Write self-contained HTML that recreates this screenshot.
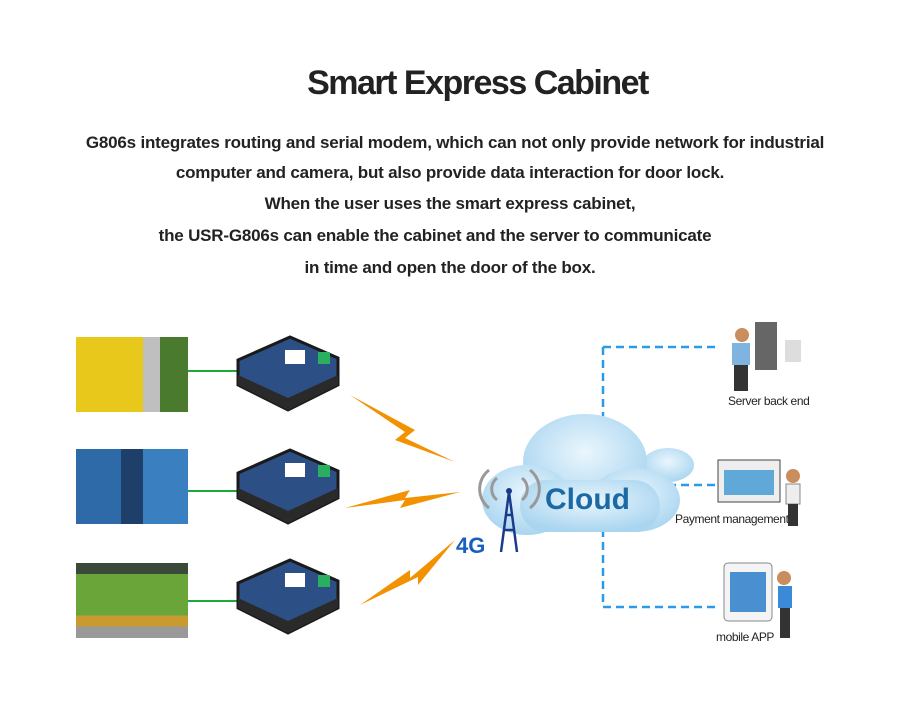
<!DOCTYPE html>
<html><head><style>
body{margin:0;width:900px;height:709px;background:#fff;position:relative;overflow:hidden;font-family:"Liberation Sans",sans-serif}
.t{position:absolute;left:0;width:900px;text-align:center;color:#222}
h1{position:absolute;top:64px;left:0;width:955px;text-align:center;margin:0;font-size:34px;font-weight:bold;color:#222;letter-spacing:-1.5px}
.p{font-size:17px;font-weight:bold;letter-spacing:-0.2px}
.ph{position:absolute;left:76px;width:112px;height:75px}
.lbl{position:absolute;font-size:12px;color:#222;letter-spacing:-0.4px}
</style></head><body>
<h1>Smart Express Cabinet</h1>
<div class="t p" style="top:133px;left:5px">G806s integrates routing and serial modem, which can not only provide network for industrial</div>
<div class="t p" style="top:163px">computer and camera, but also provide data interaction for door lock.</div>
<div class="t p" style="top:194px">When the user uses the smart express cabinet,</div>
<div class="t p" style="top:226px;left:-15px">the USR-G806s can enable the cabinet and the server to communicate</div>
<div class="t p" style="top:258px">in time and open the door of the box.</div>

<div class="ph" style="top:337px;background:linear-gradient(90deg,#e8c81a 0 60%,#bfbfbf 60% 75%,#4a7a2e 75%)"></div>
<div class="ph" style="top:449px;background:linear-gradient(90deg,#2e6aa8 0 40%,#1d3f6a 40% 60%,#3a80c0 60%)"></div>
<div class="ph" style="top:563px;background:linear-gradient(180deg,#3a4a3a 0 15%,#6aa53a 15% 70%,#c89a30 70% 85%,#999 85%)"></div>

<svg width="900" height="709" style="position:absolute;left:0;top:0">
<g stroke="#1aaa3a" stroke-width="2"><line x1="188" y1="371" x2="237" y2="371"/><line x1="188" y1="491" x2="237" y2="491"/><line x1="188" y1="601" x2="237" y2="601"/></g>
<g fill="#2c4f85" stroke="#1a1a1a" stroke-width="3">
<polygon points="238,360 290,337 338,358 338,385 288,410 238,385"/>
<polygon points="238,473 290,450 338,471 338,498 288,523 238,498"/>
<polygon points="238,583 290,560 338,581 338,608 288,633 238,608"/>
</g>
<g fill="#2a2a2a"><polygon points="238,375 288,398 338,375 338,385 288,410 238,385"/><polygon points="238,488 288,511 338,488 338,498 288,523 238,498"/><polygon points="238,598 288,621 338,598 338,608 288,633 238,608"/></g>
<g fill="#28b060"><rect x="318" y="352" width="12" height="12"/><rect x="318" y="465" width="12" height="12"/><rect x="318" y="575" width="12" height="12"/></g>
<g fill="#fff"><rect x="285" y="350" width="20" height="14"/><rect x="285" y="463" width="20" height="14"/><rect x="285" y="573" width="20" height="14"/></g>
<g fill="#f39200">
<polygon points="350,395 415,430 405,438 455,462 395,440 405,432"/>
<polygon points="345,508 410,490 405,498 460,492 400,508 405,500"/>
<polygon points="360,605 410,570 410,578 455,540 418,585 418,577"/>
</g>
<g stroke="#2a9be8" stroke-width="2.5" stroke-dasharray="8,5" fill="none">
<line x1="603" y1="347" x2="603" y2="607"/><line x1="603" y1="347" x2="720" y2="347"/><line x1="655" y1="485" x2="716" y2="485"/><line x1="603" y1="607" x2="720" y2="607"/>
</g>
<defs><radialGradient id="cg" cx="50%" cy="40%" r="60%"><stop offset="0" stop-color="#eaf6fd"/><stop offset="1" stop-color="#a9d5f0"/></radialGradient></defs>
<g fill="url(#cg)">
<ellipse cx="668" cy="465" rx="26" ry="17"/>
<ellipse cx="585" cy="462" rx="62" ry="48"/>
<ellipse cx="527" cy="500" rx="45" ry="35"/>
<ellipse cx="635" cy="500" rx="45" ry="32"/>
<rect x="520" y="480" width="140" height="52" rx="26"/>
</g>
<text x="545" y="509" font-family="Liberation Sans" font-weight="bold" font-size="30" fill="#1b6aa6">Cloud</text>
<g stroke="#999" stroke-width="3" fill="none">
<path d="M497 478 a14 14 0 0 0 0 22"/><path d="M489 470 a24 24 0 0 0 0 38"/><path d="M522 478 a14 14 0 0 1 0 22"/><path d="M530 470 a24 24 0 0 1 0 38"/></g>
<g stroke="#1a3a8a" stroke-width="2.5" fill="none"><path d="M501 552 L509 492 L517 552 M503 530 H515 M505 515 H513"/></g>
<circle cx="509" cy="491" r="3" fill="#1a3a8a"/>
<text x="456" y="553" font-family="Liberation Sans" font-weight="bold" font-size="22" fill="#1a5fc0">4G</text>
<g fill="#666"><rect x="755" y="322" width="22" height="48"/><rect x="785" y="340" width="16" height="22" fill="#ddd"/></g>
<circle cx="742" cy="335" r="7" fill="#c98d5e"/><rect x="732" y="343" width="18" height="22" fill="#7fb3e0"/><rect x="734" y="365" width="14" height="26" fill="#333"/>
<rect x="718" y="460" width="62" height="42" fill="#eee" stroke="#444"/><rect x="724" y="470" width="50" height="25" fill="#5fa8d8"/>
<circle cx="793" cy="476" r="7" fill="#c98d5e"/><rect x="786" y="484" width="14" height="20" fill="#eee" stroke="#888"/><rect x="788" y="504" width="10" height="22" fill="#333"/>
<rect x="724" y="563" width="48" height="58" rx="4" fill="#f4f4f4" stroke="#888"/><rect x="730" y="572" width="36" height="40" fill="#4a90d0"/>
<circle cx="784" cy="578" r="7" fill="#c98d5e"/><rect x="778" y="586" width="14" height="22" fill="#3a8ad8"/><rect x="780" y="608" width="10" height="30" fill="#333"/>
</svg>
<div class="lbl" style="left:728px;top:394px">Server back end</div>
<div class="lbl" style="left:675px;top:512px">Payment management</div>
<div class="lbl" style="left:716px;top:630px">mobile APP</div>
</body></html>
